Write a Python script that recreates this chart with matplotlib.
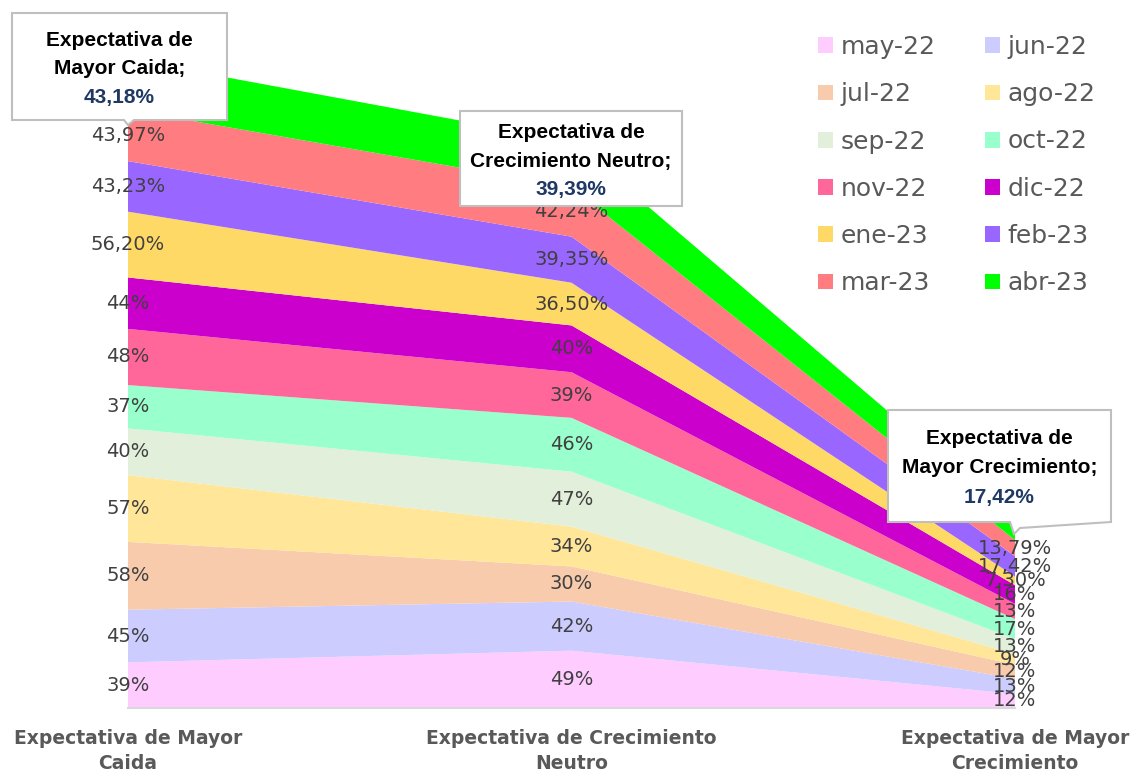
import matplotlib
matplotlib.use("Agg")
import matplotlib.pyplot as plt
from matplotlib.patches import Patch, Polygon

# ---- data ----
categories = ["Expectativa de Mayor\nCaida", "Expectativa de Crecimiento\nNeutro", "Expectativa de Mayor\nCrecimiento"]
callout_titles = ["Expectativa de\nMayor Caida;", "Expectativa de\nCrecimiento Neutro;", "Expectativa de\nMayor Crecimiento;"]
months = ["may-22", "jun-22", "jul-22", "ago-22", "sep-22", "oct-22",
          "nov-22", "dic-22", "ene-23", "feb-23", "mar-23", "abr-23"]
caida = [39, 45, 58, 57, 40, 37, 48, 44, 56.20, 43.23, 43.97, 43.18]
neutro = [49, 42, 30, 34, 47, 46, 39, 40, 36.50, 39.35, 42.24, 39.39]
crecimiento = [12, 13, 12, 9, 13, 17, 13, 16, 7.30, 17.42, 13.79, 17.42]
colors = ["#FFCCFF", "#CCCCFF", "#F8CBAD", "#FFE699", "#E2EFDA", "#99FFCC",
          "#FF6699", "#CC00CC", "#FFD966", "#9966FF", "#FF7C80", "#00FF00"]

W, H = 1130, 773


def fx(x):
    return x / W


def fy(y):
    return 1 - y / H


def fmt(v):
    if float(v).is_integer():
        return f"{int(v)}%"
    return f"{v:.2f}%".replace(".", ",")


fig = plt.figure(figsize=(W / 100, H / 100), dpi=100)
ax = fig.add_axes([fx(128), fy(708), (1015 - 128) / W, 678.6 / H])

x = [0, 1, 2]
series = [[caida[i], neutro[i], crecimiento[i]] for i in range(len(months))]
ax.stackplot(x, *series, colors=colors, linewidth=0, antialiased=True)
ax.set_xlim(0, 2)
ax.set_ylim(0, 580)

# data labels (abr-23 uses callouts instead)
cols = [caida, neutro, crecimiento]
for ci, col in enumerate(cols):
    base = 0
    for si, v in enumerate(col):
        if si < len(months) - 1:
            ax.text(ci, base + v / 2, fmt(v), ha="center", va="center",
                    fontsize=14, color="#404040", clip_on=False, zorder=5,
                    family="DejaVu Sans")
        base += v

ax.set_xticks(x)
ax.set_xticklabels(categories, fontsize=13.5, fontweight="bold", color="#595959",
                   family="DejaVu Sans", linespacing=1.4)
ax.tick_params(axis="x", length=0, pad=15)
ax.set_yticks([])
for s in ["left", "right", "top"]:
    ax.spines[s].set_visible(False)
ax.spines["bottom"].set_color("#D9D9D9")
ax.spines["bottom"].set_linewidth(1.5)

# legend (row-major order like reference)
handles = [Patch(facecolor=c, edgecolor="none") for c in colors]
order = list(range(0, 12, 2)) + list(range(1, 12, 2))
leg = fig.legend([handles[i] for i in order], [months[i] for i in order],
                 ncol=2, loc="upper left", bbox_to_anchor=(fx(818), fy(35)),
                 frameon=False, fontsize=18, handlelength=0.6, handleheight=0.6,
                 handletextpad=0.3, columnspacing=1.98, labelspacing=0.93,
                 borderpad=0, borderaxespad=0, labelcolor="#595959")

# callouts
boxes = [
    [(12, 13), (227, 13), (227, 120), (134, 120), (128, 125), (124, 120), (12, 120)],
    [(460, 111), (682, 111), (682, 206), (460, 206)],
    [(888, 410), (1111, 410), (1111, 522), (1020, 528), (1014, 534), (1010, 522), (888, 522)],
]
text_y = [(40, 68, 98), (133, 162, 190), (439, 468, 497)]
abr = [caida[-1], neutro[-1], crecimiento[-1]]
for i, pts in enumerate(boxes):
    poly = Polygon([(fx(a), fy(b)) for a, b in pts], closed=True,
                   transform=fig.transFigure, facecolor="white",
                   edgecolor="#BFBFBF", linewidth=1.5, zorder=10)
    fig.patches.append(poly)
    xs = [p[0] for p in pts]
    cx = (min(xs) + max(xs)) / 2
    l1, l2 = callout_titles[i].split("\n")
    y1, y2, y3 = text_y[i]
    for txt, yy, c in [(l1, y1, "black"), (l2, y2, "black"), (fmt(abr[i]), y3, "#1F3864")]:
        fig.text(fx(cx), fy(yy), txt, ha="center", va="center", fontsize=15,
                 fontweight="bold", color=c, family="Liberation Sans", zorder=11)

fig.savefig("out.png", dpi=100)
